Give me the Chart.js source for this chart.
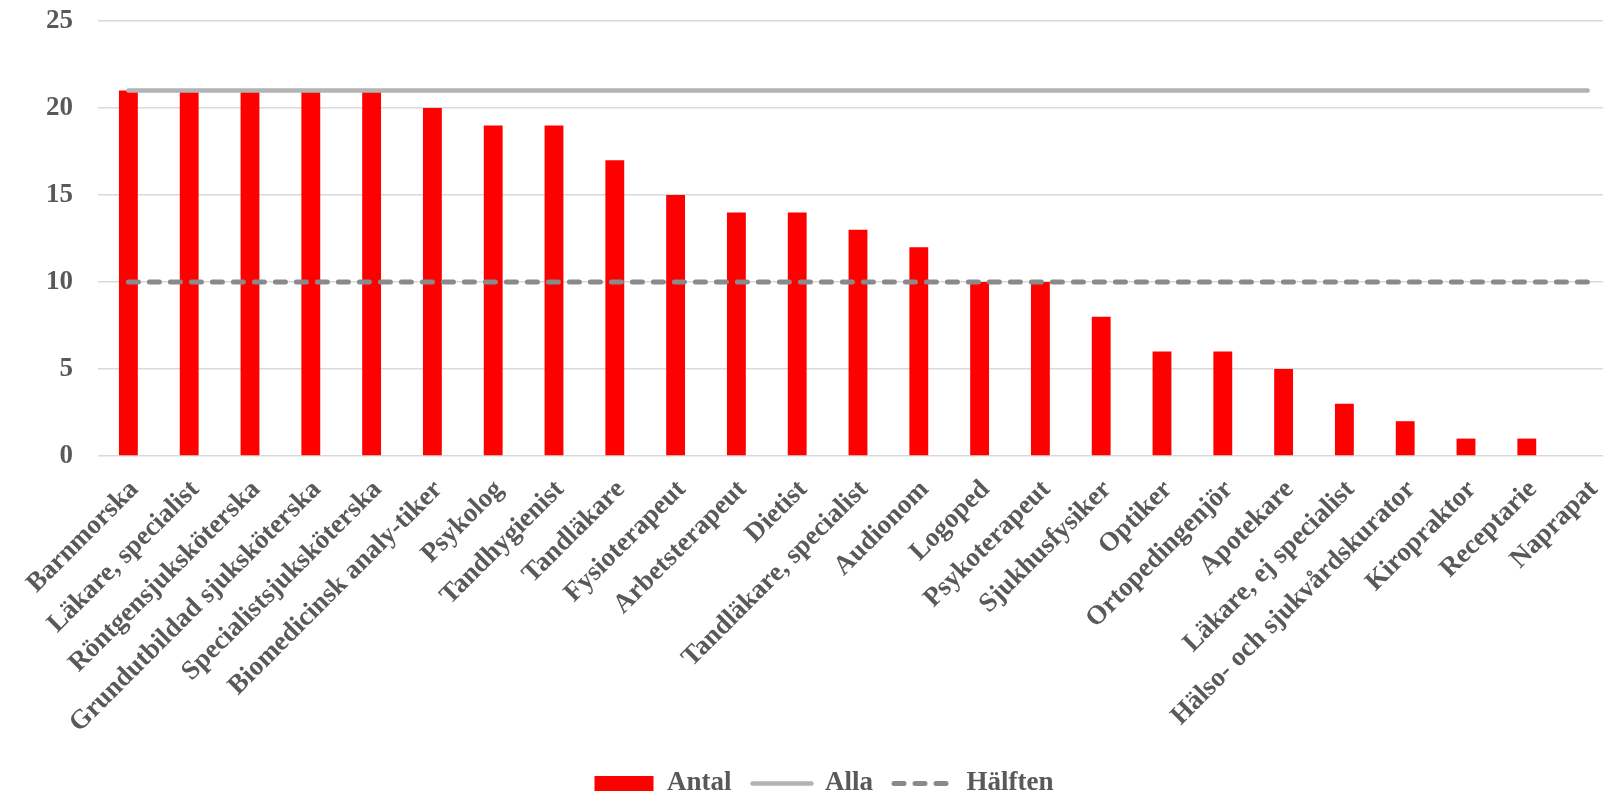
<!DOCTYPE html>
<html>
<head>
<meta charset="utf-8">
<script src="https://cdn.jsdelivr.net/npm/chart.js@4"></script>
<style>
  html, body { margin: 0; background: #fff; overflow: hidden; }
  /* the original chart is a bit larger than the picture and gets cut off on the right */
  #wrap { width: 1630px; height: 807px; }
</style>
</head>
<body>
<div id="wrap"><canvas id="barChartYrken"></canvas></div>
<script>
var yrken = ['Barnmorska', 'Läkare, specialist', 'Röntgensjuksköterska', 'Grundutbildad sjuksköterska',
    'Specialistsjuksköterska', 'Biomedicinsk analy-tiker', 'Psykolog', 'Tandhygienist', 'Tandläkare',
    'Fysioterapeut', 'Arbetsterapeut', 'Dietist', 'Tandläkare, specialist', 'Audionom', 'Logoped',
    'Psykoterapeut', 'Sjukhusfysiker', 'Optiker', 'Ortopedingenjör', 'Apotekare', 'Läkare, ej specialist',
    'Hälso- och sjukvårdskurator', 'Kiropraktor', 'Receptarie', 'Naprapat'];
var antal = [21, 21, 21, 21, 21, 20, 19, 19, 17, 15, 14, 14, 13, 12, 10, 10, 8, 6, 6, 5, 3, 2, 1, 1, 0];
var alla = yrken.map(function () { return 21; });
var halften = yrken.map(function () { return 10; });
var yTicks = [0, 5, 10, 15, 20, 25];

var font = 'Liberation Serif, Times New Roman, serif';
var grey = '#595959';

var ctx = document.getElementById('barChartYrken').getContext('2d');
var myChart = new Chart(ctx, {
    type: 'bar',
    data: {
        labels: yrken,
        datasets: [{
            label: 'Antal',
            data: antal,
            backgroundColor: '#ff0000',
            borderWidth: 0,
            barPercentage: 0.31,
            categoryPercentage: 1,
            pointStyle: 'rect',
            order: 2
        }, {
            type: 'line',
            label: 'Alla',
            data: alla,
            borderColor: '#b3b3b3',
            backgroundColor: '#b3b3b3',
            borderWidth: 4.5,
            borderCapStyle: 'round',
            pointRadius: 0,
            pointStyle: 'line',
            order: 1
        }, {
            type: 'line',
            label: 'Hälften',
            data: halften,
            borderColor: '#8a8a8a',
            backgroundColor: '#8a8a8a',
            borderWidth: 5,
            borderDash: [10, 11],
            borderCapStyle: 'round',
            pointRadius: 0,
            pointStyle: 'line',
            order: 0
        }]
    },
    options: {
        responsive: true,
        maintainAspectRatio: false,
        animation: false,
        layout: { padding: { top: 21, right: 12, left: 30, bottom: 0 } },
        scales: {
            x: {
                grid: { display: false },
                border: { display: false },
                ticks: {
                    color: grey,
                    font: { family: font, size: 27, weight: 'bold' },
                    minRotation: 45,
                    maxRotation: 45,
                    autoSkip: false,
                    padding: 10,
                    labelOffset: 6
                },
                // fixed box so the plot keeps the same size as the original
                afterFit: function (axis) {
                    axis.height = 293;
                    axis.paddingLeft = 0;
                    axis.paddingRight = 0;
                }
            },
            y: {
                min: 0,
                max: 25,
                afterBuildTicks: function (axis) {
                    axis.ticks = yTicks.map(function (v) { return {value: v}; });
                },
                afterFit: function (axis) {
                    axis.width = 68;
                    axis.paddingTop = 0;
                    axis.paddingBottom = 0;
                },
                grid: { color: '#d9d9d9', lineWidth: 1.5, drawTicks: false },
                border: { display: false },
                ticks: {
                    color: grey,
                    font: { family: font, size: 27, weight: 'bold' },
                    padding: 25
                }
            }
        },
        plugins: {
            tooltip: { enabled: false },
            legend: {
                position: 'bottom',
                labels: {
                    color: grey,
                    font: { family: font, size: 27, weight: 'bold' },
                    usePointStyle: true,
                    pointStyleWidth: 59,
                    boxHeight: 15,
                    padding: 21,
                    sort: function (a, b) { return a.datasetIndex - b.datasetIndex; },
                    // take dash and width from the dataset, not from its points
                    generateLabels: function (chart) {
                        var items = Chart.defaults.plugins.legend.labels.generateLabels(chart);
                        items.forEach(function (it) {
                            var ds = chart.data.datasets[it.datasetIndex];
                            it.lineDash = ds.borderDash || [];
                            it.lineWidth = ds.borderWidth;
                            it.lineCap = 'round';
                        });
                        return items;
                    }
                }
            }
        }
    }
});
</script>
</body>
</html>
